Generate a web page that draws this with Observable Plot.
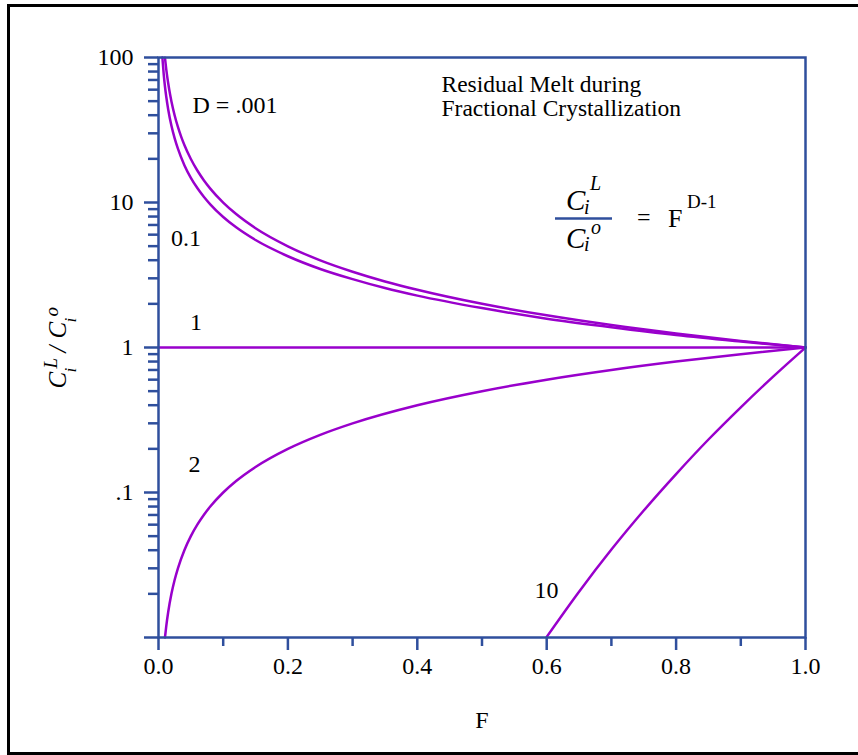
<!DOCTYPE html>
<html>
<head>
<meta charset="utf-8">
<script src="https://cdn.jsdelivr.net/npm/d3@7"></script>
<script src="https://cdn.jsdelivr.net/npm/@observablehq/plot@0.6"></script>
<style>
  html, body { margin: 0; padding: 0; background: #fff; overflow: hidden; }
  #wrap { position: relative; width: 858px; height: 755px; overflow: hidden; }
  .edge { position: absolute; background: #000; pointer-events: none; }
  #edgeTop { left: 7px; top: 4px; width: 851px; height: 3px; }
  #edgeLeft { left: 7px; top: 4px; width: 3px; height: 751px; }
  #edgeBottom { left: 7px; top: 752px; width: 851px; height: 3px; }
  #chart { position: absolute; left: 0; top: 0; }
</style>
</head>
<body>
<div id="wrap"><div id="chart"></div><div class="edge" id="edgeTop"></div><div class="edge" id="edgeLeft"></div><div class="edge" id="edgeBottom"></div></div>
<script>
// ---- data ----
const dValues = ["0.001", "0.1", "1", "2", "10"];

const fD0001 = [0.01, 0.012, 0.015, 0.018, 0.02, 0.025, 0.03, 0.035, 0.04, 0.05, 0.06, 0.07, 0.08, 0.1, 0.12, 0.15, 0.2, 0.25, 0.3, 0.35, 0.4, 0.5, 0.6, 0.7, 0.8, 0.9, 1.0];
const cD0001 = [99.5, 82.9, 66.4, 55.3, 49.8, 39.85, 33.2, 28.47, 24.9, 19.94, 16.62, 14.25, 12.47, 9.98, 8.32, 6.65, 4.99, 3.99, 3.33, 2.854, 2.50, 2.00, 1.666, 1.428, 1.250, 1.111, 1.0];

const fD01 = [0.006, 0.008, 0.01, 0.012, 0.015, 0.02, 0.025, 0.03, 0.04, 0.05, 0.06, 0.07, 0.08, 0.1, 0.12, 0.15, 0.2, 0.25, 0.3, 0.35, 0.4, 0.5, 0.6, 0.7, 0.8, 0.9, 1.0];
const cD01 = [100, 77.1, 63.1, 53.6, 43.8, 33.8, 27.7, 23.5, 18.1, 14.8, 12.58, 10.95, 9.71, 7.94, 6.74, 5.51, 4.26, 3.48, 2.96, 2.57, 2.28, 1.87, 1.58, 1.38, 1.22, 1.10, 1.0];

const fD1 = [0, 1.0];
const cD1 = [1, 1];

const fD2 = [0.01, 0.012, 0.015, 0.02, 0.025, 0.03, 0.04, 0.05, 0.06, 0.07, 0.08, 0.1, 0.12, 0.15, 0.2, 0.25, 0.3, 0.4, 0.5, 0.6, 0.7, 0.8, 0.9, 1.0];
const cD2 = [0.01, 0.012, 0.015, 0.02, 0.025, 0.03, 0.04, 0.05, 0.06, 0.07, 0.08, 0.1, 0.12, 0.15, 0.2, 0.25, 0.3, 0.4, 0.5, 0.6, 0.7, 0.8, 0.9, 1.0];

const fD10 = [0.6, 0.65, 0.7, 0.75, 0.8, 0.85, 0.9, 0.95, 1.0];
const cD10 = [0.0101, 0.0207, 0.0404, 0.0751, 0.134, 0.232, 0.387, 0.630, 1.0];

const xTicks = [0, 0.2, 0.4, 0.6, 0.8, 1.0];
const xTickLabels = ["0.0", "0.2", "0.4", "0.6", "0.8", "1.0"];
const xMinorTicks = [0.1, 0.3, 0.5, 0.7, 0.9];

const yTicks = [0.01, 0.1, 1, 10, 100];
const yTickLabels = ["", ".1", "1", "10", "100"];
const yMinorTicks = [0.02,0.03,0.04,0.05,0.06,0.07,0.08,0.09, 0.2,0.3,0.4,0.5,0.6,0.7,0.8,0.9, 2,3,4,5,6,7,8,9, 20,30,40,50,60,70,80,90];

// curve labels: text, F, C
const curveLabels = ["D = .001", "0.1", "1", "2", "10"];
const curveLabelF = [0.1182, 0.0425, 0.058, 0.0556, 0.5997];
const curveLabelC = [41.1, 5.05, 1.31, 0.1374, 0.01858];

const titleLines = ["Residual Melt during", "Fractional Crystallization"];
const titleF = [0.4374, 0.4374];
const titleC = [57.4, 39.8];

// equation anchor (centre of the fraction bar) and bar ends
const eqF = 0.6577, eqC = 7.76, eqBarF1 = 0.6136, eqBarF2 = 0.7017;

// ---- build tables ----
const seriesF = [fD0001, fD01, fD1, fD2, fD10];
const seriesC = [cD0001, cD01, cD1, cD2, cD10];
const rows = [];
dValues.forEach((d, k) => seriesF[k].forEach((f, i) => rows.push({D: d, F: f, C: seriesC[k][i]})));
const labelRows = curveLabels.map((t, i) => ({t, F: curveLabelF[i], C: curveLabelC[i]}));
const titleRows = titleLines.map((t, i) => ({t, F: titleF[i], C: titleC[i]}));

const navy = "#2f4f9d";
const purple = "#9900cc";
const serif = "'Liberation Serif', 'Times New Roman', serif";

// equation pieces: text, size, dx, dy, italic
const eqPieces = [
  {t: "C", s: 29, dx: -18, dy: -8, it: true},
  {t: "i", s: 20, dx: 0, dy: -4, it: true},
  {t: "L", s: 20, dx: 6, dy: -28, it: true},
  {t: "C", s: 29, dx: -18, dy: 30, it: true},
  {t: "i", s: 20, dx: 0, dy: 33, it: true},
  {t: "o", s: 20, dx: 7, dy: 16, it: true},
  {t: "=", s: 24, dx: 53, dy: 7, it: false},
  {t: "F", s: 26, dx: 84, dy: 9, it: false},
  {t: "D-1", s: 19, dx: 103, dy: -10, it: false}
];
// y-axis label pieces (rotated)
const yLabPieces = [
  {t: "C", s: 25, dx: -93, dy: 41},
  {t: "i", s: 17, dx: -83, dy: 25},
  {t: "L", s: 19, dx: -102, dy: 21},
  {t: "/", s: 25, dx: -93, dy: 5},
  {t: "C", s: 25, dx: -93, dy: -9},
  {t: "i", s: 17, dx: -83, dy: -25},
  {t: "o", s: 19, dx: -101, dy: -31}
];

const marks = [
  Plot.line(rows, {x: "F", y: "C", z: "D", stroke: purple, strokeWidth: 2.5, curve: "monotone-x"}),
  Plot.frame({stroke: navy, strokeWidth: 2.5}),
  Plot.axisY(yTicks, {tickSize: 14, tickPadding: 11, tickFormat: d => yTickLabels[yTicks.indexOf(d)],
    stroke: navy, strokeWidth: 2.5, fill: "black", fontSize: 24, fontFamily: serif, label: null}),
  Plot.axisY(yMinorTicks, {tickSize: 10, tickFormat: () => "", stroke: navy, strokeWidth: 2.5, label: null}),
  Plot.axisX(xTicks, {tickSize: 13, tickPadding: 6, tickFormat: d => xTickLabels[xTicks.indexOf(d)],
    stroke: navy, strokeWidth: 2.5, fill: "black", fontSize: 24, fontFamily: serif, label: null}),
  Plot.axisX(xMinorTicks, {tickSize: 9, tickFormat: () => "", stroke: navy, strokeWidth: 2.5, label: null}),
  Plot.text(["F"], {frameAnchor: "bottom", text: d => d, dy: 90, lineAnchor: "bottom", fontSize: 24, fontFamily: serif, fill: "black"}),
  Plot.text(labelRows, {x: "F", y: "C", text: "t", textAnchor: "middle", lineAnchor: "bottom", fontSize: 24, fontFamily: serif, fill: "black"}),
  Plot.text(titleRows, {x: "F", y: "C", text: "t", textAnchor: "start", lineAnchor: "bottom", fontSize: 23.5, fontFamily: serif, fill: "black"}),
  Plot.ruleY([eqC], {x1: eqBarF1, x2: eqBarF2, stroke: navy, strokeWidth: 2.5})
];
eqPieces.forEach(p => marks.push(Plot.text([p.t], {x: eqF, y: eqC, text: d => d, dx: p.dx, dy: p.dy,
  textAnchor: "start", lineAnchor: "bottom", fontSize: p.s, fontFamily: serif, fontStyle: p.it ? "italic" : "normal", fill: "black"})));
yLabPieces.forEach(p => marks.push(Plot.text([p.t], {frameAnchor: "left", text: d => d, dx: p.dx, dy: p.dy, rotate: -90,
  textAnchor: "start", lineAnchor: "bottom", fontSize: p.s, fontFamily: serif, fontStyle: "italic", fill: "black"})));

const chart = Plot.plot({
  width: 858,
  height: 755,
  marginLeft: 158,
  marginRight: 53,
  marginTop: 57,
  marginBottom: 118,
  x: {domain: [0, 1], label: null},
  y: {type: "log", domain: [0.01, 100], label: null},
  style: {background: "transparent", fontFamily: serif, color: "black"},
  marks
});
document.getElementById("chart").appendChild(chart);
</script>
</body>
</html>
